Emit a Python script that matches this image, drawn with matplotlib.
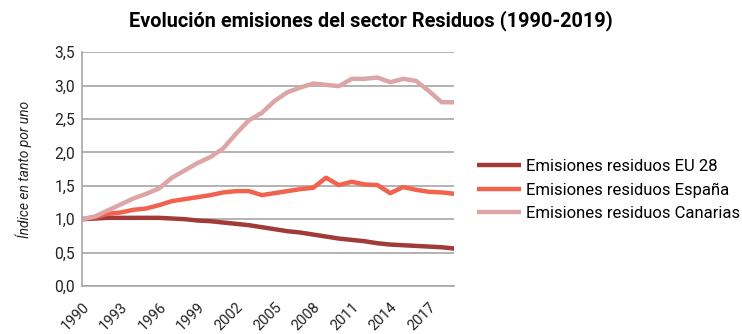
import matplotlib.pyplot as plt
import numpy as np

plt.rcParams['font.family'] = ['Roboto', 'DejaVu Sans']

years = list(range(1990, 2020))

eu28 = [1.00, 1.01, 1.02, 1.02, 1.02, 1.02, 1.02, 1.01, 1.00, 0.98,
        0.97, 0.95, 0.93, 0.91, 0.88, 0.85, 0.82, 0.80, 0.77, 0.74,
        0.71, 0.69, 0.67, 0.64, 0.62, 0.61, 0.60, 0.59, 0.58, 0.56]
espana = [1.00, 1.03, 1.08, 1.10, 1.14, 1.16, 1.21, 1.27, 1.30, 1.33,
          1.36, 1.40, 1.42, 1.42, 1.36, 1.39, 1.42, 1.45, 1.47, 1.62,
          1.51, 1.56, 1.52, 1.51, 1.39, 1.48, 1.44, 1.41, 1.40, 1.38]
canarias = [1.00, 1.04, 1.13, 1.22, 1.31, 1.38, 1.46, 1.62, 1.73, 1.84,
            1.93, 2.06, 2.28, 2.48, 2.59, 2.77, 2.90, 2.97, 3.03, 3.01,
            2.99, 3.10, 3.10, 3.12, 3.05, 3.10, 3.07, 2.92, 2.75, 2.75]

labels = ['Emisiones residuos EU 28', 'Emisiones residuos España',
          'Emisiones residuos Canarias']
colors = ['#a13b3a', '#f1634f', '#dba6a5']

fig = plt.figure(figsize=(7.42, 3.34), dpi=100)
ax = fig.add_axes([0.1105, 0.1437, 0.502, 0.7003])

for serie, lab, col in zip([eu28, espana, canarias], labels, colors):
    ax.plot(years, serie, color=col, lw=3.2, label=lab, solid_capstyle='butt')

ax.set_xlim(1990, 2019)
ax.set_ylim(0, 3.5)
ax.set_yticks(np.arange(0, 3.51, 0.5))
ax.set_yticklabels([f'{v:.1f}'.replace('.', ',') for v in np.arange(0, 3.51, 0.5)])
xt = list(range(1990, 2019, 3))
ax.set_xticks(xt)
ax.set_xticklabels([str(y) for y in xt], rotation=45, ha='right',
                   rotation_mode='anchor')
ax.tick_params(axis='y', length=0, labelsize=11.2, colors='#222222', pad=5)
ax.tick_params(axis='x', length=0, labelsize=10.5, colors='#222222', pad=10)

ax.grid(axis='y', color='#a6a6a6', lw=1.2)
ax.set_axisbelow(True)
for s in ['top', 'right']:
    ax.spines[s].set_visible(False)
for s in ['left', 'bottom']:
    ax.spines[s].set_color('#a6a6a6')
    ax.spines[s].set_linewidth(1.2)

ax.set_ylabel('Índice en tanto por uno', style='italic', fontsize=10,
              color='#222222', labelpad=16)
fig.suptitle('Evolución emisiones del sector Residuos (1990-2019)',
             fontsize=14.3, fontweight='bold', x=0.5, y=0.97)

ax.legend(loc='center left', bbox_to_anchor=(1.019, 0.41), frameon=False,
          fontsize=12, handlelength=2.64, handletextpad=0.35,
          labelspacing=0.5)

plt.savefig('out.png', dpi=100)
